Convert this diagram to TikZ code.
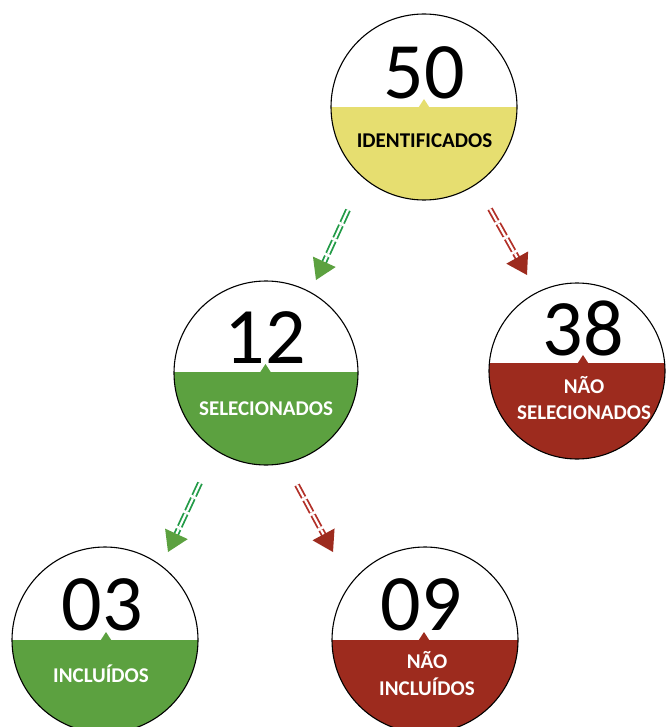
\documentclass[tikz,border=0pt]{standalone}
\usepackage{fontspec}
\setmainfont{Carlito}
\usetikzlibrary{calc}
\definecolor{yel}{RGB}{230,222,112}
\definecolor{grn}{RGB}{92,161,64}
\definecolor{red2}{RGB}{157,43,30}
\definecolor{grnline}{RGB}{35,155,72}
\definecolor{redline}{RGB}{178,48,40}
\newcommand{\flowarrow}[5]{%
  \coordinate (#1b) at ($(#3)!20pt!(#2)$);
  \coordinate (#1e) at ($(#3)!17pt!(#2)$);
  \draw[shaft, draw=#4] (#2) -- (#1e);
  \fill[#5] (#3) -- ($(#1b)!12.5pt!90:(#3)$) -- ($(#1b)!12.5pt!-90:(#3)$) -- cycle;
}
\begin{document}
\begin{tikzpicture}[x=1pt,y=-1pt,
  disc/.style={circle, draw=black, line width=1.1pt, inner sep=0pt},
  num/.style={anchor=base, inner sep=0pt, font=\fontsize{80}{80}\selectfont},
  lbl/.style={anchor=base, inner sep=0pt, font=\fontsize{21}{21}\selectfont\bfseries, text=white},
  shaft/.style={double=white, double distance=2.2pt, line width=1.8pt, dash pattern=on 14pt off 3pt}]
\useasboundingbox (0,0) rectangle (667,727);

% top: 50
\begin{scope}
  \clip (424,107) circle[radius=93pt];
  \fill[yel] (300,107) rectangle (550,210);
\end{scope}
\fill[yel] (418.5,107.5) -- (424,99) -- (429.5,107.5) -- cycle;
\node[disc, minimum size=186pt] (c50) at (424,107) {};
\node[num] (n50) at (424,99) {50};
\node[lbl, text=black] (l50) at (424.5,148) {IDENTIFICADOS};

% middle left: 12
\begin{scope}
  \clip (266,373) circle[radius=92pt];
  \fill[grn] (150,372) rectangle (380,470);
\end{scope}
\fill[grn] (260,372.5) -- (265.5,364) -- (271,372.5) -- cycle;
\node[disc, minimum size=184pt] (c12) at (266,373) {};
\node[num] (n12) at (265,363) {12};
\node[lbl] (l12) at (266,415) {SELECIONADOS};

% middle right: 38
\begin{scope}
  \clip (577,371) circle[radius=88pt];
  \fill[red2] (480,363) rectangle (680,470);
\end{scope}
\fill[red2] (577.5,363.5) -- (583,355) -- (588.5,363.5) -- cycle;
\node[disc, minimum size=176pt] (c38) at (577,371) {};
\node[num] (n38) at (583.5,355) {38};
\node[lbl] (l38a) at (584,393) {NÃO};
\node[lbl] (l38b) at (584,419) {SELECIONADOS};

% bottom left: 03
\begin{scope}
  \clip (105,640) circle[radius=93pt];
  \fill[grn] (0,640) rectangle (220,740);
\end{scope}
\fill[grn] (100.5,640.5) -- (106,632) -- (111.5,640.5) -- cycle;
\node[disc, minimum size=186pt] (c03) at (105,640) {};
\node[num] (n03) at (102,630) {03};
\node[lbl] (l03) at (101,682) {INCLUÍDOS};

% bottom right: 09
\begin{scope}
  \clip (425,640) circle[radius=93pt];
  \fill[red2] (320,640) rectangle (530,740);
\end{scope}
\fill[red2] (418.5,640.5) -- (424,632) -- (429.5,640.5) -- cycle;
\node[disc, minimum size=186pt] (c09) at (425,640) {};
\node[num] (n09) at (421,630) {09};
\node[lbl] (l09a) at (427,668) {NÃO};
\node[lbl] (l09b) at (427,695) {INCLUÍDOS};

% arrows
\coordinate (a1s) at (348,210); \coordinate (a1t) at (316,280);
\coordinate (a2s) at (490,209); \coordinate (a2t) at (527,275);
\coordinate (a3s) at (200,483); \coordinate (a3t) at (168,552);
\coordinate (a4s) at (297,485); \coordinate (a4t) at (333,552);
\flowarrow{a1}{a1s}{a1t}{grnline}{grn}
\flowarrow{a2}{a2s}{a2t}{redline}{red2}
\flowarrow{a3}{a3s}{a3t}{grnline}{grn}
\flowarrow{a4}{a4s}{a4t}{redline}{red2}
\end{tikzpicture}
\end{document}
